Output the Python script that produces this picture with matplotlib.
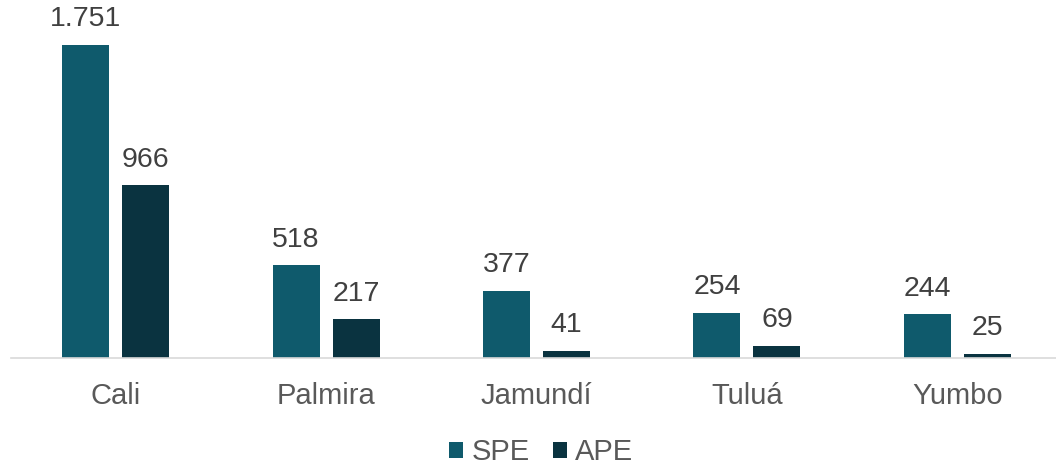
import matplotlib
matplotlib.use("Agg")
import matplotlib.pyplot as plt
import numpy as np

categories = ["Cali", "Palmira", "Jamundí", "Tuluá", "Yumbo"]
spe = [1751, 518, 377, 254, 244]
ape = [966, 217, 41, 69, 25]
series_names = ["SPE", "APE"]

c_spe = "#0F5A6C"
c_ape = "#0A3340"
val_txt = "#404040"
cat_txt = "#595959"

plt.rcParams["font.family"] = ["Liberation Sans", "DejaVu Sans"]

fig = plt.figure(figsize=(10.56, 4.66), dpi=100)
ax = fig.add_axes([10.5 / 1056, 108 / 466, 1052 / 1056, 358 / 466])

x = np.arange(len(categories))
w = 0.223
off = (w + 0.062) / 2
b1 = ax.bar(x - off, spe, w, color=c_spe, label=series_names[0])
b2 = ax.bar(x + off, ape, w, color=c_ape, label=series_names[1])

def fmt(v):
    return f"{v:,}".replace(",", ".")

for bars, vals in ((b1, spe), (b2, ape)):
    for r, v in zip(bars, vals):
        ax.annotate(fmt(v), (r.get_x() + r.get_width() / 2, v),
                    xytext=(0, 9), textcoords="offset points",
                    ha="center", va="bottom", fontsize=20.5, color=val_txt)

ax.set_xlim(-0.5, len(categories) - 0.5)
ax.set_ylim(0, 2002)
ax.set_yticks([])
ax.set_xticks(x)
ax.set_xticklabels(categories, fontsize=21, color=cat_txt)
ax.tick_params(axis="x", length=0, pad=17)
for s in ("top", "right", "left"):
    ax.spines[s].set_visible(False)
ax.spines["bottom"].set_color("#D9D9D9")
ax.spines["bottom"].set_linewidth(1.2)
ax.patch.set_alpha(0)

leg = fig.legend(handles=[b1, b2], labels=series_names, loc="center",
                 bbox_to_anchor=(541.5 / 1056, 14 / 466), ncol=2, frameon=False,
                 fontsize=21, handlelength=0.48, handleheight=0.48,
                 handletextpad=0.28, columnspacing=0.8, borderpad=0)
for t in leg.get_texts():
    t.set_color(cat_txt)

fig.savefig("out.png", dpi=100)
